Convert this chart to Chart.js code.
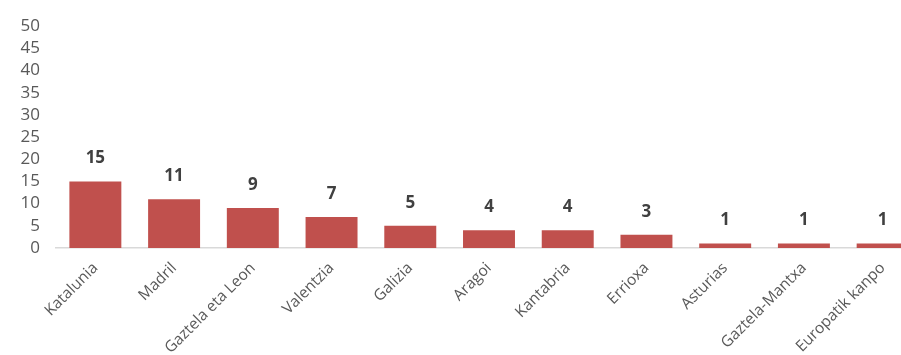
<!DOCTYPE html>
<html>
<head>
<meta charset="utf-8">
<script src="https://cdn.jsdelivr.net/npm/chart.js@4/dist/chart.umd.min.js"></script>
<style>
html,body{margin:0;padding:0;background:#fff;overflow:hidden;width:901px;height:355px;}
#wrap{position:absolute;left:0;top:0;width:922px;height:355px;}
</style>
</head>
<body>
<div id="wrap"><canvas id="c" width="922" height="355"></canvas></div>
<script>
const categories = ["Katalunia","Madril","Gaztela eta Leon","Valentzia","Galizia","Aragoi","Kantabria","Errioxa","Asturias","Gaztela-Mantxa","Europatik kanpo"];
const values = [15, 11, 9, 7, 5, 4, 4, 3, 1, 1, 1];
const yMin = 0, yMax = 50, yStep = 5;

const FONT = "'Open Sans', 'Liberation Sans', sans-serif";

const valueLabels = {
  id: 'valueLabels',
  afterDatasetsDraw(chart) {
    const ctx = chart.ctx;
    const meta = chart.getDatasetMeta(0);
    ctx.save();
    ctx.font = "bold 17px " + FONT;
    ctx.fillStyle = "#404040";
    ctx.textAlign = "center";
    ctx.textBaseline = "middle";
    meta.data.forEach((bar, i) => {
      ctx.fillText(String(values[i]), bar.x, bar.y - 23);
    });
    ctx.restore();
  }
};

new Chart(document.getElementById('c'), {
  type: 'bar',
  data: {
    labels: categories,
    datasets: [{
      data: values,
      backgroundColor: '#C0504D',
      borderWidth: 0,
      categoryPercentage: 1,
      barPercentage: 0.66
    }]
  },
  options: {
    responsive: false,
    devicePixelRatio: 1,
    animation: false,
    layout: { padding: { top: 18, left: 0, right: 0, bottom: 0 } },
    plugins: { legend: { display: false }, tooltip: { enabled: false } },
    scales: {
      x: {
        grid: { display: false, drawTicks: false },
        border: { display: true, color: '#d9d9d9', width: 1.5 },
        ticks: {
          color: '#595959',
          font: { family: FONT, size: 15.5 },
          maxRotation: 45, minRotation: 45,
          autoSkip: false,
          padding: 11
        },
        afterFit(scale) { scale.height = 107; }
      },
      y: {
        min: yMin, max: yMax,
        grid: { display: false, drawTicks: false },
        border: { display: false },
        ticks: {
          stepSize: yStep,
          autoSkip: false,
          color: '#595959',
          font: { family: FONT, size: 17 },
          padding: 16
        },
        afterFit(scale) { scale.width = 56; }
      }
    }
  },
  plugins: [valueLabels]
});
</script>
</body>
</html>
